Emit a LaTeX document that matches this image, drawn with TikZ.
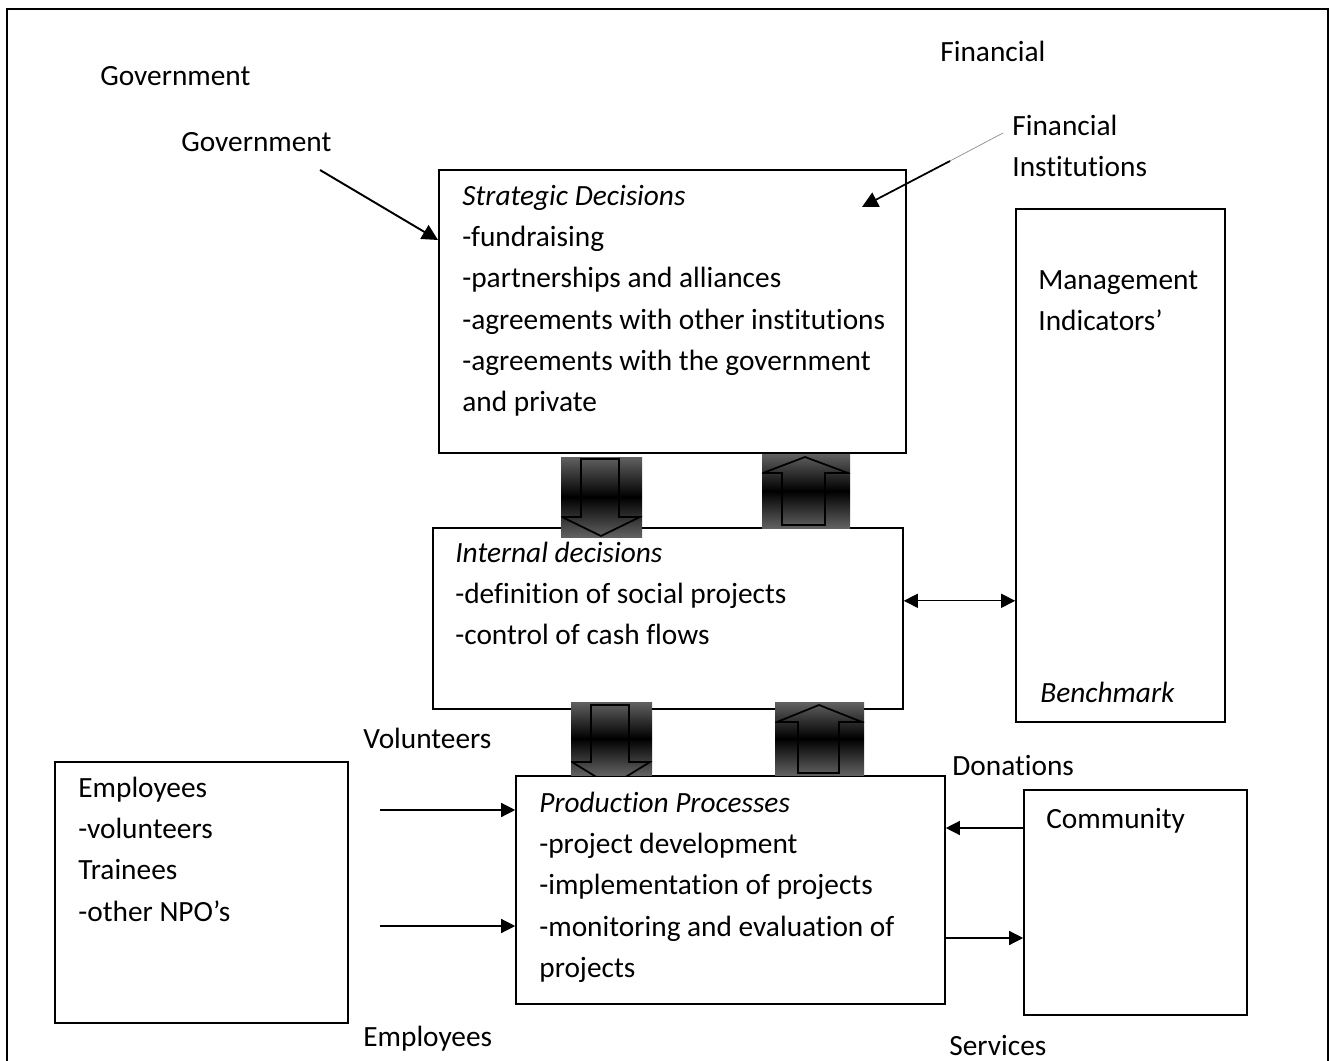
\documentclass[tikz,border=0pt]{standalone}
\usepackage{fontspec}
\setmainfont{Carlito}[Ligatures=CommonOff]
\usetikzlibrary{arrows.meta,fit,calc}

\tikzset{
  box/.style={draw, line width=0.9pt, inner sep=0pt},
  txt/.style={anchor=north west, inner sep=0pt, align=left,
    font=\fontsize{16.7}{23.5}\selectfont},
  flow/.style={-{Triangle[length=8pt,width=8pt]}, line width=0.75pt},
  pointer/.style={-{Triangle[length=9pt,width=9pt]}, line width=1.1pt},
  blockshade/.style={top color=black!62, bottom color=black!62, middle color=black},
  blockline/.style={line width=1pt, line join=miter}
}

\begin{document}
\begin{tikzpicture}[x=0.02cm, y=-0.02cm]
\useasboundingbox (0,0) rectangle (1330,1061);
% outer frame
\draw[line width=1.1pt] (7,1061) -- (7,9) -- (1328,9) -- (1328,1061);

% boxes
\node[box, fit={(439,170) (906,453)}] (strat) {};
\node[box, fit={(433,528) (903,709)}] (intern) {};
\node[box, fit={(516,776) (945,1004)}] (prod) {};
\node[box, fit={(1016,209) (1225,722)}] (mgmt) {};
\node[box, fit={(55,762) (348,1023)}] (staff) {};
\node[box, fit={(1024,790) (1247,1015)}] (commun) {};

% texts in boxes
\node[txt] (strattext) at (462,176) {\strut\textit{Strategic Decisions}\\-fundraising\\-partnerships and alliances\\-agreements with other institutions\\-agreements with the government\\and private};
\node[txt] (interntext) at (455,533) {\strut\textit{Internal decisions}\\-definition of social projects\\-control of cash flows};
\node[txt] (prodtext) at (539,783) {\strut\textit{Production Processes}\\-project development\\-implementation of projects\\-monitoring and evaluation of\\projects};
\node[txt] (mgmttext) at (1038,260) {\strut Management\\Indicators’};
\node[txt] (bench) at (1040,673) {\strut\textit{Benchmark}};
\node[txt] (stafftext) at (78,768) {\strut Employees\\-volunteers\\Trainees\\-other NPO’s};
\node[txt] (communtext) at (1046,799) {\strut Community};

% free labels
\node[txt] (gov1) at (100,56) {\strut Government};
\node[txt] (gov2) at (181,122) {\strut Government};
\node[txt] (fin1) at (940,32) {\strut Financial};
\node[txt] (fin2) at (1012,106) {\strut Financial\\Institutions};
\node[txt] (vol) at (363,719) {\strut Volunteers};
\node[txt] (empl) at (363,1017) {\strut Employees};
\node[txt] (don) at (952,746) {\strut Donations};
\node[txt] (serv) at (949,1026) {\strut Services};

% connectors
\coordinate (govtail) at (320,170);
\coordinate (govhead) at (438,240);
\draw[pointer] (govtail) -- (govhead);
\coordinate (fintail) at (1003,133);
\coordinate (finmid) at (950,161);
\coordinate (finhead) at (862,207);
\draw[line width=0.4pt, black!45] (fintail) -- (finmid);
\draw[pointer, line width=1pt] (finmid) -- (finhead);

\coordinate (indic) at ($(intern.north east)!0.403!(intern.south east)$);
\draw[flow, {Triangle[length=8pt,width=8pt]}-{Triangle[length=8pt,width=8pt]}] (indic) -- (indic -| mgmt.west);

\coordinate (voltail) at (380,810);
\coordinate (empltail) at (380,926);
\draw[flow] (voltail) -- (voltail -| prod.west);
\draw[flow] (empltail) -- (empltail -| prod.west);

\coordinate (dontail) at (1024,828);
\coordinate (servtail) at (946,938);
\draw[flow] (dontail -| commun.west) -- (dontail -| prod.east);
\draw[flow] (servtail -| prod.east) -- (servtail -| commun.west);

% block arrows
\begin{scope}
\clip (561,457) rectangle (642,537);
\shade[blockshade] (561,457) rectangle (642,537);
\draw[blockline] (581,459) -- (619,459) -- (619,517) -- (640,517) -- (601,536) -- (562,517) -- (581,517) -- cycle;
\end{scope}
\begin{scope}
\clip (762,454) rectangle (850,528);
\shade[blockshade] (762,454) rectangle (850,528);
\draw[blockline] (805,457) -- (848,473) -- (825,473) -- (825,525) -- (782,525) -- (782,473) -- (763,473) -- cycle;
\end{scope}
\begin{scope}
\clip (571,702) rectangle (652,775);
\shade[blockshade] (571,702) rectangle (652,775);
\draw[blockline] (591,705) -- (629,705) -- (629,762) -- (650,762) -- (611,786) -- (572,762) -- (591,762) -- cycle;
\end{scope}
\begin{scope}
\clip (775,702) rectangle (864,775);
\shade[blockshade] (775,702) rectangle (864,775);
\draw[blockline] (819,705) -- (862,722) -- (839,722) -- (839,773) -- (798,773) -- (798,722) -- (777,722) -- cycle;
\end{scope}
\end{tikzpicture}
\end{document}
